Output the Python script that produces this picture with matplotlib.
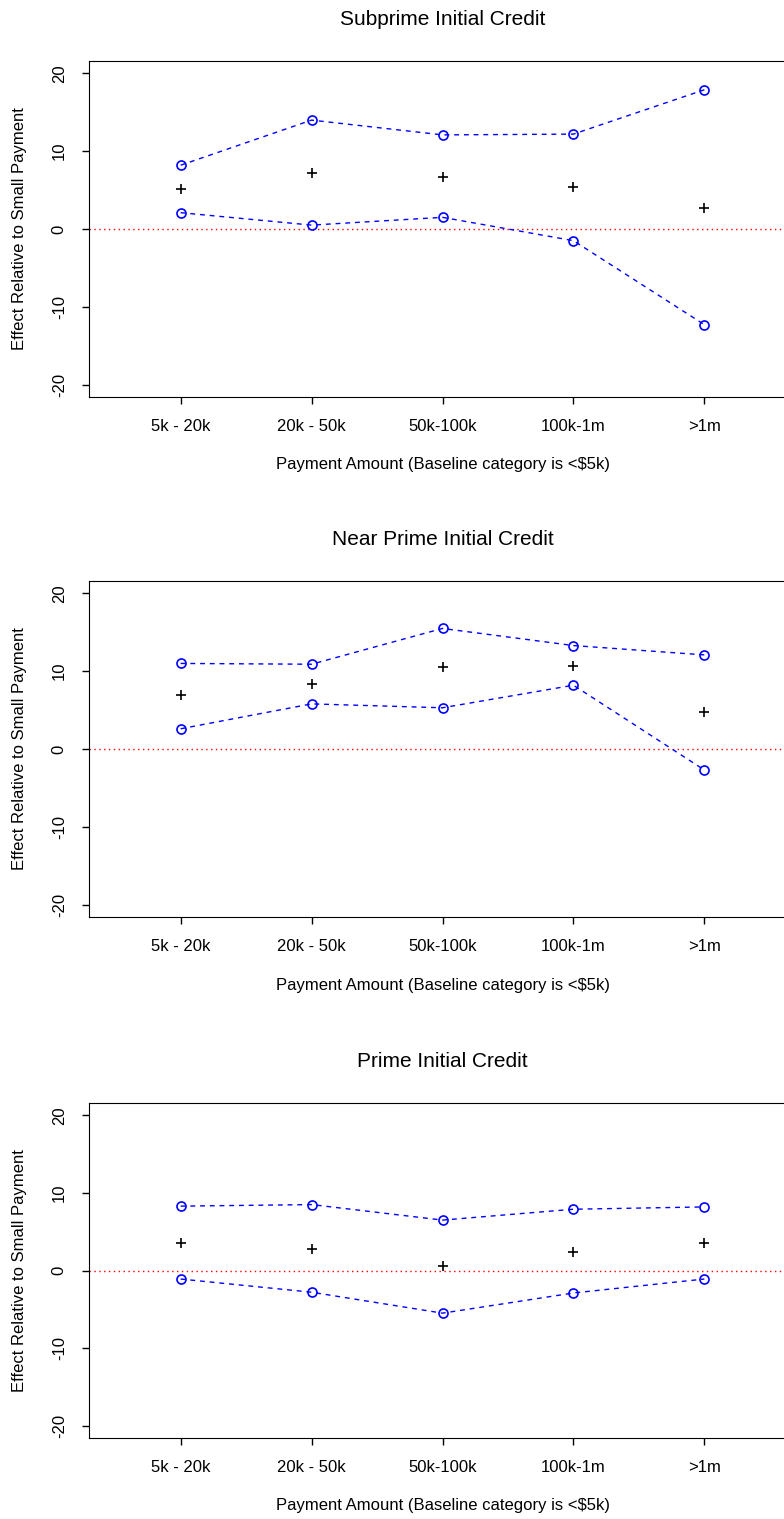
import matplotlib
matplotlib.use("Agg")
import matplotlib.pyplot as plt

plt.rcParams['font.family'] = ['Liberation Sans', 'DejaVu Sans']

# payment-size categories (baseline is <$5k)
categories = ['5k - 20k', '20k - 50k', '50k-100k', '100k-1m', '>1m']
titles = ['Subprime Initial Credit', 'Near Prime Initial Credit', 'Prime Initial Credit']

# point estimates and confidence bounds
subprime_est = [5.1, 7.2, 6.7, 5.4, 2.7]
subprime_hi = [8.2, 14.0, 12.1, 12.2, 17.9]
subprime_lo = [2.1, 0.5, 1.5, -1.5, -12.3]

nearprime_est = [6.9, 8.3, 10.5, 10.7, 4.7]
nearprime_hi = [11.0, 10.9, 15.5, 13.3, 12.1]
nearprime_lo = [2.6, 5.8, 5.3, 8.2, -2.7]

prime_est = [3.6, 2.8, 0.6, 2.4, 3.6]
prime_hi = [8.3, 8.5, 6.5, 7.9, 8.2]
prime_lo = [-1.1, -2.8, -5.5, -2.9, -1.1]

yticks = [-20, -10, 0, 10, 20]

panels = [
    (subprime_est, subprime_hi, subprime_lo),
    (nearprime_est, nearprime_hi, nearprime_lo),
    (prime_est, prime_hi, prime_lo),
]

W, H = 784, 1519
fig = plt.figure(figsize=(W / 100, H / 100), dpi=100)

# axes boxes in pixels (top, bottom); right edge runs past the image like the original crop
ax_left, ax_right = 89, 796
boxes = [(61, 397), (581, 917), (1103, 1438)]

x = list(range(1, len(categories) + 1))

for (est, hi, lo), title, (top, bot) in zip(panels, titles, boxes):
    ax = fig.add_axes([ax_left / W, 1 - bot / H, (ax_right - ax_left) / W, (bot - top) / H])
    ax.set_xlim(0.3, 5.7)
    ax.set_ylim(-21.6, 21.6)

    ax.axhline(0, color='red', lw=1, linestyle=(0, (1, 2.5)))
    for bound in (hi, lo):
        ax.plot(x, bound, color='blue', lw=1, linestyle=(0, (3.5, 3.5)),
                marker='o', markersize=6.5, markerfacecolor='none',
                markeredgecolor='blue', markeredgewidth=1.2)
    ax.plot(x, est, linestyle='none', marker='+', markersize=7,
            markeredgewidth=1.2, color='black')

    ax.set_xticks(x)
    ax.set_xticklabels(categories, fontsize=12)
    ax.set_yticks(yticks)
    ax.set_yticklabels([str(t) for t in yticks], rotation=90, va='center', fontsize=12)
    ax.tick_params(axis='both', direction='out', length=5, width=1)
    ax.tick_params(axis='x', pad=11)
    ax.tick_params(axis='y', pad=11)

    ax.set_title(title, fontsize=15, pad=26)
    ax.set_xlabel('Payment Amount (Baseline category is <$5k)', fontsize=12)
    ax.xaxis.set_label_coords(0.5, -(465 - 397) / 336)
    ax.xaxis.label.set_va('center')
    ax.set_ylabel('Effect Relative to Small Payment', fontsize=12)
    ax.yaxis.set_label_coords(-(89 - 20) / (ax_right - ax_left), 0.5)
    ax.yaxis.label.set_va('center')

fig.savefig('out.png', dpi=100)
